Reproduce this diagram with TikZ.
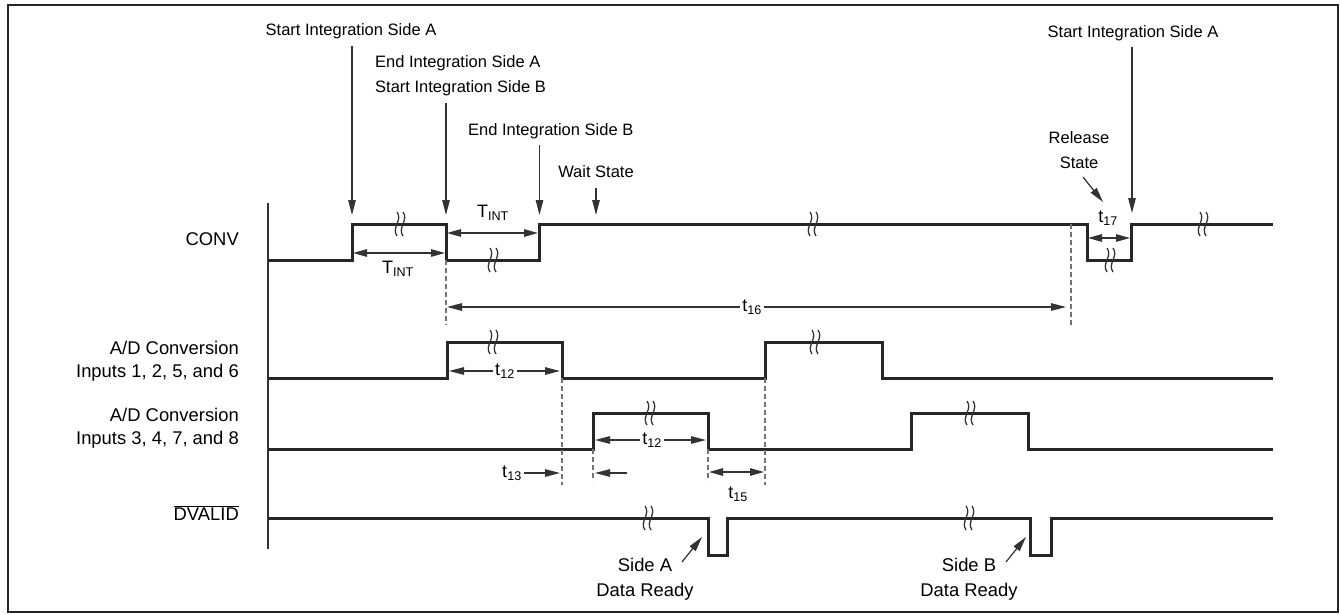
\documentclass[tikz,border=0pt]{standalone}
\usepackage{fontspec}
\setmainfont{Liberation Sans}
\usetikzlibrary{arrows.meta}

\begin{document}
\begin{tikzpicture}[x=1pt, y=-1pt,
  sig/.style={line width=3pt, draw=black!85},
  arrow/.style={-{Triangle[length=15pt,width=7.5pt]}, line width=1.2pt, draw=black!80},
  dimarrow/.style={{Triangle[length=14pt,width=7.5pt]}-{Triangle[length=14pt,width=7.5pt]},
              line width=1.2pt, draw=black!80},
  guide/.style={dash pattern=on 5pt off 3pt, line width=1.2pt, draw=black!55},
  note/.style={font=\fontsize{16.5}{25}\selectfont, inner sep=1pt, align=center},
  signame/.style={font=\fontsize{18.4}{23}\selectfont, inner sep=1pt, align=right, anchor=east},
  tlabel/.style={font=\fontsize{18}{20}\selectfont, inner sep=2pt},
  brk/.pic={
    \draw[line width=1.3pt, black!80] (-3,12) .. controls (-9,4) and (3,-4) .. (-3,-12);
    \draw[line width=1.3pt, black!80] (3,12) .. controls (-3,4) and (9,-4) .. (3,-12);
  }
]
\useasboundingbox (0,0) rectangle (1340,615);
\draw[line width=2.4pt, black!85] (8,5) rectangle (1338,612);

% signal names
\node[signame] (conv) at (240,239) {CONV};
\node[signame] (adone) at (240,361.5) {A/D Conversion\\Inputs 1, 2, 5, and 6};
\node[signame] (adtwo) at (240,428.5) {A/D Conversion\\Inputs 3, 4, 7, and 8};
\node[signame] (dvalid) at (240,513) {$\overline{\mbox{DVALID}}$};
\draw[line width=1.2pt, black!80] (268,203) -- (268,549);

% waveforms
\draw[sig] (268,260) -- (352,260) -- (352,224) -- (446,224) -- (446,260) -- (539,260)
  -- (539,224) -- (1087,224) -- (1087,260) -- (1131,260) -- (1131,224) -- (1273,224);
\draw[sig] (268,378) -- (447,378) -- (447,342) -- (562,342) -- (562,378) -- (765,378)
  -- (765,342) -- (882,342) -- (882,378) -- (1273,378);
\draw[sig] (268,449) -- (593,449) -- (593,413) -- (708,413) -- (708,449) -- (911,449)
  -- (911,413) -- (1028,413) -- (1028,449) -- (1273,449);
\draw[sig] (268,518) -- (708,518) -- (708,555) -- (727,555) -- (727,518) -- (1030,518)
  -- (1030,555) -- (1051,555) -- (1051,518) -- (1273,518);

\foreach \bx/\by in {400/224, 493/260, 813/224, 1110/260, 1203/224, 493/342, 815/342,
                     650/413, 970/413, 648/518, 969/518}
  \pic at (\bx,\by) {brk};

% guide lines
\draw[guide] (446,260) -- (446,325);
\draw[guide] (1071,224) -- (1071,327);
\draw[guide] (562,378) -- (562,485);
\draw[guide] (765,378) -- (765,485);
\draw[guide] (593,449) -- (593,481);
\draw[guide] (708,449) -- (708,481);

% event annotations
\node[note] (sia) at (351,31) {Start Integration Side A};
\node[note, align=left, anchor=west] (eia) at (374,75.5) {End Integration Side A\\Start Integration Side B};
\node[note, anchor=west] (eib) at (467,131) {End Integration Side B};
\node[note] (wait) at (596,172) {Wait State};
\node[note] (sianext) at (1133,33) {Start Integration Side A};
\node[note] (release) at (1079,150.5) {Release\\State};
\coordinate (siaend) at (352,215);
\coordinate (eiaend) at (446,215);
\coordinate (eibend) at (539.5,215);
\coordinate (waitend) at (596,215);
\coordinate (sianextend) at (1132,213);
\coordinate (relstart) at (1083,177);
\coordinate (relend) at (1103,202);
\draw[arrow] (siaend |- 0,46) -- (siaend);
\draw[arrow] (eiaend |- 0,103) -- (eiaend);
\draw[arrow] (eibend |- 0,145) -- (eibend);
\draw[arrow] (waitend |- 0,188) -- (waitend);
\draw[arrow] (sianextend |- 0,47) -- (sianextend);
\draw[arrow] (relstart) -- (relend);

% timing
\draw[dimarrow] (353,253) -- (445,253);
\node[tlabel] (tinta) at (398,269) {T\textsubscript{INT}};
\draw[dimarrow] (447,233) -- (538,233);
\node[tlabel] (tintb) at (493,213) {T\textsubscript{INT}};
\draw[dimarrow] (1088,238) -- (1130,238);
\node[tlabel] (tseventeen) at (1108,218) {t\textsubscript{17}};

\node[tlabel] (tsixteen) at (752,307) {t\textsubscript{16}};
\coordinate (tsixteenl) at (447,307);
\coordinate (tsixteenr) at (1066,307);
\draw[arrow] (tsixteen) -- (tsixteenl);
\draw[arrow] (tsixteen) -- (tsixteenr);

\node[tlabel] (ttwelvea) at (505,371) {t\textsubscript{12}};
\coordinate (ttwelveal) at (449,371);
\coordinate (ttwelvear) at (560,371);
\draw[arrow] (ttwelvea) -- (ttwelveal);
\draw[arrow] (ttwelvea) -- (ttwelvear);

\node[tlabel] (ttwelveb) at (652,440) {t\textsubscript{12}};
\coordinate (ttwelvebl) at (595,440);
\coordinate (ttwelvebr) at (706,440);
\draw[arrow] (ttwelveb) -- (ttwelvebl);
\draw[arrow] (ttwelveb) -- (ttwelvebr);

\node[tlabel] (tthirteen) at (512,473) {t\textsubscript{13}};
\coordinate (tthirteenr) at (560,473);
\draw[arrow] (tthirteen) -- (tthirteenr);
\coordinate (holdstart) at (627,473);
\coordinate (holdend) at (595,473);
\draw[arrow] (holdstart) -- (holdend);

\draw[dimarrow] (709,472) -- (764,472);
\node[tlabel] (tfifteen) at (738,494) {t\textsubscript{15}};

% data ready
\node[note, font=\fontsize{18.4}{25}\selectfont] (readya) at (645,579.5) {Side A\\Data Ready};
\node[note, font=\fontsize{18.4}{25}\selectfont] (readyb) at (969,579.5) {Side B\\Data Ready};
\coordinate (readyaend) at (702,537);
\coordinate (readybend) at (1026,537);
\draw[arrow] (682,562) -- (readyaend);
\draw[arrow] (1006,562) -- (readybend);
\end{tikzpicture}
\end{document}
